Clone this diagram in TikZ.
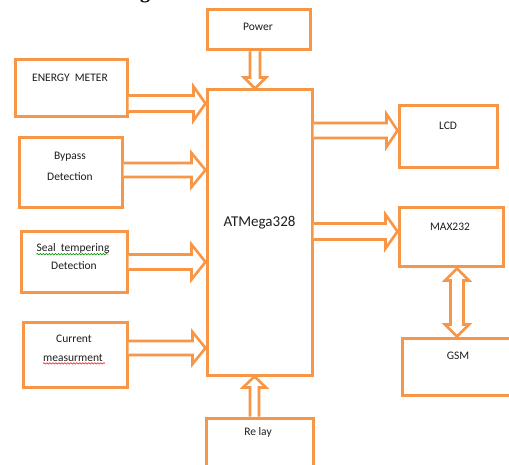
\documentclass[tikz,border=0pt]{standalone}
\usepackage{fontspec}
\setmainfont{Carlito}
\newfontfamily\headfont{Liberation Serif}
\usetikzlibrary{calc,decorations.pathmorphing}
\definecolor{org}{HTML}{F79646}
\definecolor{txt}{HTML}{1E1E1E}
% #1 shaft half width, #2 head half width, #3 head length, #4 from, #5 to
\newcommand\barrow[5]{%
  \coordinate (ba-B) at ($(#5)!#3!(#4)$);
  \draw[arr] ($(#4)!#1!90:(#5)$) -- ($(ba-B)!#1!90:(#5)$) -- ($(ba-B)!#2!90:(#5)$)
    -- (#5) -- ($(ba-B)!#2!-90:(#5)$) -- ($(ba-B)!#1!-90:(#5)$) -- ($(#4)!#1!-90:(#5)$);}
\newcommand\dbarrow[5]{%
  \coordinate (ba-B) at ($(#5)!#3!(#4)$);
  \coordinate (ba-A) at ($(#4)!#3!(#5)$);
  \draw[arr] (#4) -- ($(ba-A)!#2!90:(#5)$) -- ($(ba-A)!#1!90:(#5)$) -- ($(ba-B)!#1!90:(#5)$)
    -- ($(ba-B)!#2!90:(#5)$) -- (#5) -- ($(ba-B)!#2!-90:(#5)$) -- ($(ba-B)!#1!-90:(#5)$)
    -- ($(ba-A)!#1!-90:(#5)$) -- ($(ba-A)!#2!-90:(#5)$) -- cycle;}
\tikzset{
  box/.style={draw=org, line width=3pt, fill=white, inner sep=0pt},
  arr/.style={draw=org, line width=2.6pt, line join=miter, fill=white},
  lbl/.style={text=txt, font=\fontsize{11.5}{13}\selectfont, inner sep=0pt},
  squig/.style={line width=0.6pt, decorate, decoration={snake, amplitude=0.7pt, segment length=3pt}}
}
\begin{document}
\begin{tikzpicture}[x=1pt,y=-1pt]
\useasboundingbox (0,0) rectangle (509,465);
\clip (0,0) rectangle (509,465);
\fill[white] (0,0) rectangle (509,465);
% partial heading
\node[font=\headfont\bfseries\fontsize{20}{20}\selectfont, anchor=base, inner sep=0pt] (hd) at (145,-1) {g};
% boxes
\node[box, minimum width=103pt, minimum height=40pt] (pw) at (258.5,30) {};
\node[box, minimum width=112pt, minimum height=57pt] (em) at (71,88.5) {};
\node[box, minimum width=103pt, minimum height=70pt] (bp) at (70.5,173) {};
\node[box, minimum width=106pt, minimum height=61pt] (st) at (74,262.5) {};
\node[box, minimum width=104pt, minimum height=65pt] (cm) at (75,354.5) {};
\node[box, minimum width=105pt, minimum height=285pt] (mcu) at (259.5,232.5) {};
\node[box, minimum width=98pt, minimum height=62pt] (lcd) at (448,137) {};
\node[box, minimum width=104pt, minimum height=59pt] (max) at (451,237.5) {};
\node[box, minimum width=112pt, minimum height=57pt] (gsm) at (458,366.5) {};
\node[box, minimum width=107pt, minimum height=60pt] (rl) at (259.5,448) {};
% labels
\node[lbl] (pw-t) at (258,27) {Power};
\node[lbl] (em-t) at (70,78) {ENERGY\ \ METER};
\node[lbl] (bp-t1) at (70,157) {Bypass};
\node[lbl] (bp-t2) at (70,177) {Detection};
\node[lbl] (st-t1) at (73,248) {Seal\ \ tempering};
\node[lbl] (st-t2) at (74,266) {Detection};
\node[lbl] (cm-t1) at (74,339) {Current};
\node[lbl] (cm-t2) at (73,358) {measurment};
\node[text=txt, font=\fontsize{15}{17}\selectfont, inner sep=0pt] (mcu-t) at (259.5,223) {ATMega328};
\node[lbl] (lcd-t) at (448,126) {LCD};
\node[lbl] (max-t) at (450,227) {MAX232};
\node[lbl] (gsm-t) at (458,356) {GSM};
\node[lbl] (rl-t) at (258,432) {Re lay};
% spell-check squiggles
\draw[squig, green!60!black] (st-t1.south west) ++(0,1) -- ++(72,0);
\draw[squig, red] (cm-t2.south west) ++(0,1.5) -- ++(62,0);
% arrow end points
\coordinate (pw-o) at (pw.south -| 255,0);
\coordinate (mcu-p) at (mcu.north -| pw-o);
\coordinate (rl-o) at (rl.north -| 254.5,0);
\coordinate (mcu-r) at (mcu.south -| rl-o);
\coordinate (em-o) at (em.east |- 0,103.5);
\coordinate (mcu-1) at (mcu.west |- em-o);
\coordinate (bp-o) at (bp.east |- 0,170);
\coordinate (mcu-2) at (mcu.west |- bp-o);
\coordinate (st-o) at (st.east |- 0,262);
\coordinate (mcu-3) at (mcu.west |- st-o);
\coordinate (cm-o) at (cm.east |- 0,348);
\coordinate (mcu-4) at (mcu.west |- cm-o);
\coordinate (mcu-5) at (mcu.east |- 0,130.5);
\coordinate (lcd-i) at (lcd.west |- mcu-5);
\coordinate (mcu-6) at (mcu.east |- 0,231.5);
\coordinate (max-i) at (max.west |- mcu-6);
\coordinate (max-o) at (max.south -| 457,0);
\coordinate (gsm-i) at (gsm.north -| max-o);
% arrows
\barrow{5pt}{11pt}{11pt}{pw-o}{mcu-p}
\barrow{4.5pt}{11.5pt}{11pt}{rl-o}{mcu-r}
\barrow{8pt}{17pt}{12pt}{em-o}{mcu-1}
\barrow{7pt}{17pt}{14pt}{bp-o}{mcu-2}
\barrow{7.5pt}{17.5pt}{14pt}{st-o}{mcu-3}
\barrow{7pt}{16pt}{13pt}{cm-o}{mcu-4}
\barrow{7.5pt}{16.5pt}{11pt}{mcu-5}{lcd-i}
\barrow{8pt}{17pt}{12pt}{mcu-6}{max-i}
\dbarrow{6.5pt}{12pt}{12pt}{max-o}{gsm-i}
\end{tikzpicture}
\end{document}
